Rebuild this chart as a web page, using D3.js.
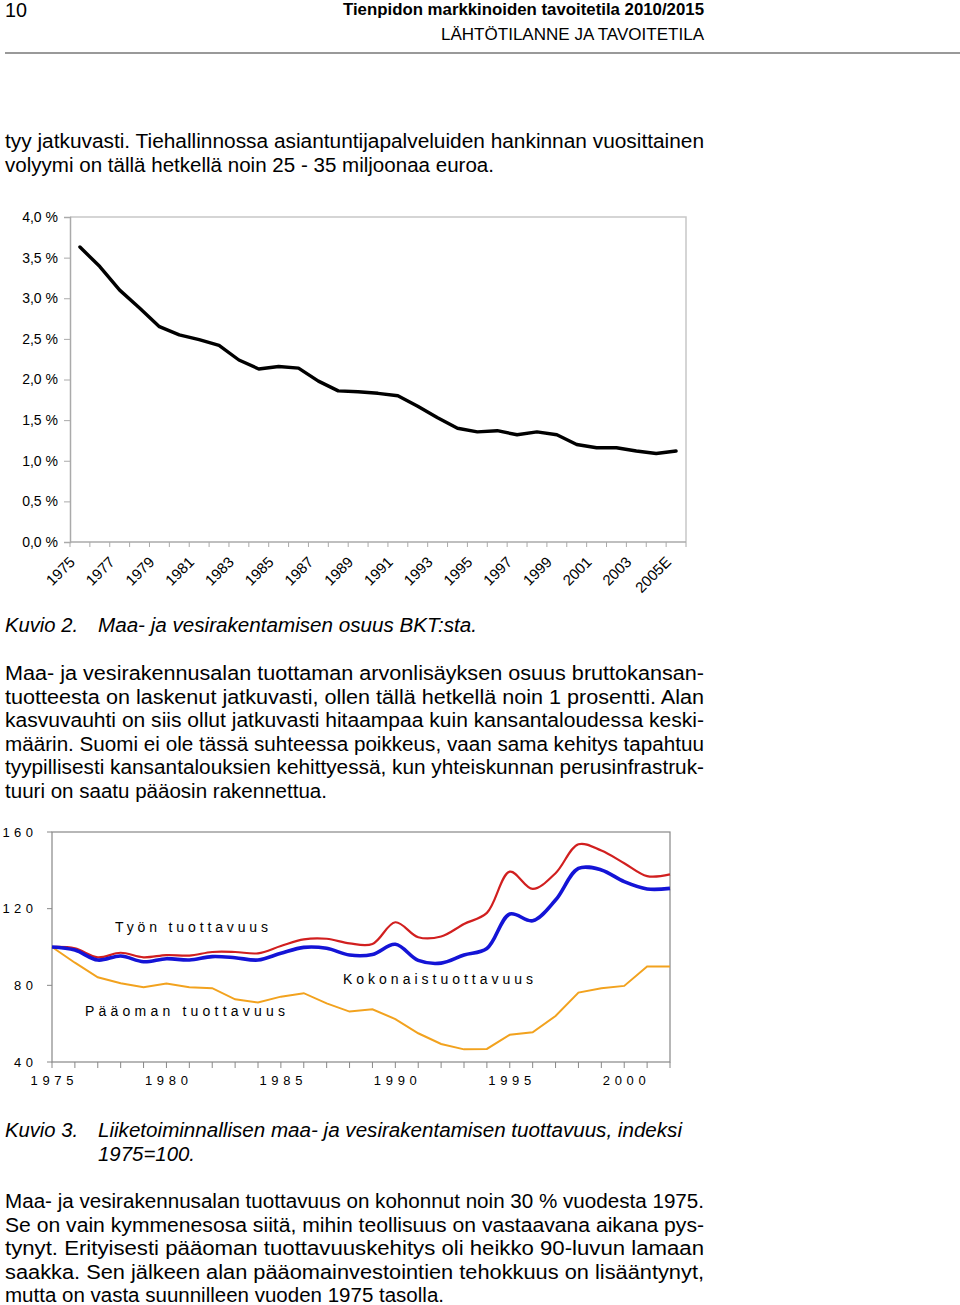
<!DOCTYPE html>
<html><head><meta charset="utf-8">
<script src="https://cdn.jsdelivr.net/npm/d3@7"></script>
<style>body{margin:0;background:#fff}svg{display:block}</style>
</head><body>
<script>
// ---------- DATA ----------
const years1 = ["1975","1976","1977","1978","1979","1980","1981","1982","1983","1984","1985","1986","1987","1988","1989","1990","1991","1992","1993","1994","1995","1996","1997","1998","1999","2000","2001","2002","2003","2004","2005E"];
const gdpShare = [3.63,3.39,3.10,2.88,2.65,2.55,2.49,2.42,2.24,2.13,2.16,2.14,1.98,1.86,1.85,1.83,1.80,1.67,1.53,1.40,1.355,1.37,1.32,1.355,1.32,1.20,1.16,1.16,1.12,1.09,1.12];
const y1Ticks = [0,0.5,1,1.5,2,2.5,3,3.5,4];

const years2 = [1975,1976,1977,1978,1979,1980,1981,1982,1983,1984,1985,1986,1987,1988,1989,1990,1991,1992,1993,1994,1995,1996,1997,1998,1999,2000,2001,2002];
const labourProd = [100,99.3,94.6,97.0,94.6,95.8,95.5,97.4,97.4,96.7,100.5,104.0,104.3,101.9,101.6,112.9,105.1,105.5,112.0,117.8,139.3,130.3,138.5,153.6,150.3,143.7,137.0,137.9];
const totalProd  = [100,98.4,93.2,95.3,92.3,93.9,93.2,95.0,94.4,93.2,96.7,99.8,99.3,95.8,96.1,101.4,93.0,91.6,95.8,99.2,117.2,113.7,124.5,141.0,140.2,134.1,130.3,130.6];
const capitalProd= [100,91.8,84.2,81.1,79.0,80.9,79.0,78.5,72.7,71.0,74.1,75.9,70.6,66.3,67.5,62.4,55.0,49.4,46.6,46.8,54.2,55.5,64.0,76.2,78.5,79.7,89.8,89.8];
const y2Ticks = [40,80,120,160];
const x2Labels = [1975,1980,1985,1990,1995,2000];
const seriesNames = ["Työn tuottavuus","Kokonaistuottavuus","Pääoman tuottavuus"];

// ---------- SETUP ----------
const FONT = "'Liberation Sans', Arial, sans-serif";
const svg = d3.select("body").append("svg").attr("width",960).attr("height",1305)
  .style("font-family",FONT);

function txt(str,x,y,o={}){
  const t = svg.append("text").attr("x",x).attr("y",y).text(str)
    .attr("font-size",o.size||20).attr("fill","#000");
  if(o.weight) t.attr("font-weight",o.weight);
  if(o.style) t.attr("font-style",o.style);
  if(o.anchor) t.attr("text-anchor",o.anchor);
  if(o.len){ t.attr("textLength",o.len).attr("lengthAdjust",o.adjust||"spacingAndGlyphs"); }
  return t;
}

// ---------- HEADER ----------
txt("10",5,17,{size:20,len:22});
txt("Tienpidon markkinoiden tavoitetila 2010/2015",343,15,{size:17,weight:"bold",len:361});
txt("LÄHTÖTILANNE JA TAVOITETILA",441,40,{size:17,len:263});
svg.append("line").attr("x1",5).attr("x2",960).attr("y1",53).attr("y2",53)
  .attr("stroke","#999").attr("stroke-width",2);

// ---------- PARAGRAPHS ----------
const L = 5, R = 704;
const para1 = [
 ["tyy jatkuvasti. Tiehallinnossa asiantuntijapalveluiden hankinnan vuosittainen",148,R-L],
 ["volyymi on tällä hetkellä noin 25 - 35 miljoonaa euroa.",171.5,489]
];
const para2 = [
 ["Maa- ja vesirakennusalan tuottaman arvonlisäyksen osuus bruttokansan-",680,R-L],
 ["tuotteesta on laskenut jatkuvasti, ollen tällä hetkellä noin 1 prosentti. Alan",703.6,R-L],
 ["kasvuvauhti on siis ollut jatkuvasti hitaampaa kuin kansantaloudessa keski-",727.2,R-L],
 ["määrin. Suomi ei ole tässä suhteessa poikkeus, vaan sama kehitys tapahtuu",750.8,R-L],
 ["tyypillisesti kansantalouksien kehittyessä, kun yhteiskunnan perusinfrastruk-",774.4,R-L],
 ["tuuri on saatu pääosin rakennettua.",798,322]
];
const para4 = [
 ["Maa- ja vesirakennusalan tuottavuus on kohonnut noin 30 % vuodesta 1975.",1208,R-L],
 ["Se on vain kymmenesosa siitä, mihin teollisuus on vastaavana aikana pys-",1231.6,R-L],
 ["tynyt. Erityisesti pääoman tuottavuuskehitys oli heikko 90-luvun lamaan",1255.2,R-L],
 ["saakka. Sen jälkeen alan pääomainvestointien tehokkuus on lisääntynyt,",1278.8,R-L],
 ["mutta on vasta suunnilleen vuoden 1975 tasolla.",1302.4,439]
];
[...para1,...para2,...para4].forEach(([s,y,w])=>txt(s,L,y,{size:20,len:w}));

// captions
txt("Kuvio 2.",5,632,{size:20,style:"italic",len:73});
txt("Maa- ja vesirakentamisen osuus BKT:sta.",98,632,{size:20,style:"italic",len:379});
txt("Kuvio 3.",5,1137,{size:20,style:"italic",len:73});
txt("Liiketoiminnallisen maa- ja vesirakentamisen tuottavuus, indeksi",98,1137,{size:20,style:"italic",len:584});
txt("1975=100.",98,1161,{size:20,style:"italic",len:97});

// ---------- CHART 1 ----------
const x1 = d3.scaleBand().domain(years1).range([70,686]);
const y1 = d3.scaleLinear().domain([0,4]).range([542,217]);
const g1 = svg.append("g");
g1.append("path").attr("d",`M${x1.range()[0]},${y1(4)}H${x1.range()[1]}V${y1(0)}`)
  .attr("fill","none").attr("stroke","#c8c8c8").attr("stroke-width",1.5);
const ya1 = g1.append("g").attr("transform",`translate(${x1.range()[0]},0)`)
  .call(d3.axisLeft(y1).tickValues(y1Ticks).tickSize(6).tickPadding(6)
    .tickFormat(d=>d3.format(".1f")(d).replace(".",",")+" %"));
ya1.select(".domain").attr("stroke","#aaa").attr("stroke-width",1.5);
ya1.selectAll(".tick line").attr("stroke","#aaa");
ya1.selectAll("text").attr("font-size",14).attr("font-family",FONT).attr("fill","#000");
g1.append("line").attr("x1",x1.range()[0]).attr("x2",x1.range()[1]).attr("y1",y1(0)).attr("y2",y1(0))
  .attr("stroke","#aaa").attr("stroke-width",1.5);
const bounds = years1.map(d=>x1(d)).concat([x1.range()[1]]);
g1.selectAll(".bt").data(bounds).join("line")
  .attr("x1",d=>d).attr("x2",d=>d).attr("y1",y1(0)).attr("y2",y1(0)+5).attr("stroke","#aaa");
g1.selectAll(".xl").data(years1.filter((d,i)=>i%2===0)).join("text")
  .attr("text-anchor","end").attr("font-size",15).attr("fill","#000")
  .attr("transform",d=>`translate(${x1(d)+x1.bandwidth()/2-4},${y1(0)+21}) rotate(-45)`)
  .text(d=>d);
g1.append("path").datum(gdpShare)
  .attr("d",d3.line().x((d,i)=>x1(years1[i])+x1.bandwidth()/2).y(d=>y1(d)))
  .attr("fill","none").attr("stroke","#000").attr("stroke-width",3.4)
  .attr("stroke-linejoin","round").attr("stroke-linecap","round");

// ---------- CHART 2 ----------
const x2 = d3.scaleLinear().domain([1975,2002]).range([52,670]);
const y2 = d3.scaleLinear().domain([40,160]).range([1062,832]);
const g2 = svg.append("g");
g2.append("rect").attr("x",x2(1975)).attr("y",y2(160)).attr("width",x2(2002)-x2(1975))
  .attr("height",y2(40)-y2(160)).attr("fill","none").attr("stroke","#888").attr("stroke-width",1.2);
g2.selectAll(".yt").data(y2Ticks).join("line")
  .attr("x1",x2(1975)-5).attr("x2",x2(1975)).attr("y1",d=>y2(d)).attr("y2",d=>y2(d)).attr("stroke","#888");
g2.selectAll(".ytl").data(y2Ticks).join("text")
  .attr("x",d=>33-(String(d).length*7.2+(String(d).length-1)*4.5)).attr("y",d=>y2(d)+4.6)
  .attr("font-size",13).attr("fill","#000")
  .attr("textLength",d=>String(d).length*7.2+(String(d).length-1)*4.5).attr("lengthAdjust","spacing")
  .text(d=>d);
g2.selectAll(".xt").data(years2).join("line")
  .attr("x1",d=>x2(d)).attr("x2",d=>x2(d)).attr("y1",y2(40)).attr("y2",y2(40)+6).attr("stroke","#888");
g2.selectAll(".xtl").data(x2Labels).join("text")
  .attr("x",d=>x2(d)).attr("y",1085).attr("text-anchor","middle")
  .attr("font-size",13).attr("fill","#000")
  .attr("textLength",43).attr("lengthAdjust","spacing").text(d=>d);

const smooth = d3.line().x((d,i)=>x2(years2[i])).y(d=>y2(d)).curve(d3.curveCatmullRom.alpha(0.5));
const straight = d3.line().x((d,i)=>x2(years2[i])).y(d=>y2(d));
g2.append("path").datum(capitalProd).attr("d",straight)
  .attr("fill","none").attr("stroke","#f2a21e").attr("stroke-width",2);
g2.append("path").datum(labourProd).attr("d",smooth)
  .attr("fill","none").attr("stroke","#d11f1f").attr("stroke-width",2.2);
g2.append("path").datum(totalProd).attr("d",smooth)
  .attr("fill","none").attr("stroke","#1414d6").attr("stroke-width",3.6);

const lab = [[seriesNames[0],115,932,153],[seriesNames[1],343,984,190],[seriesNames[2],85,1016,200]];
lab.forEach(([s,x,y,w])=>{
  g2.append("text").attr("x",x).attr("y",y).attr("font-size",14).attr("fill","#000")
    .attr("textLength",w).attr("lengthAdjust","spacing").text(s);
});
</script>
</body></html>
